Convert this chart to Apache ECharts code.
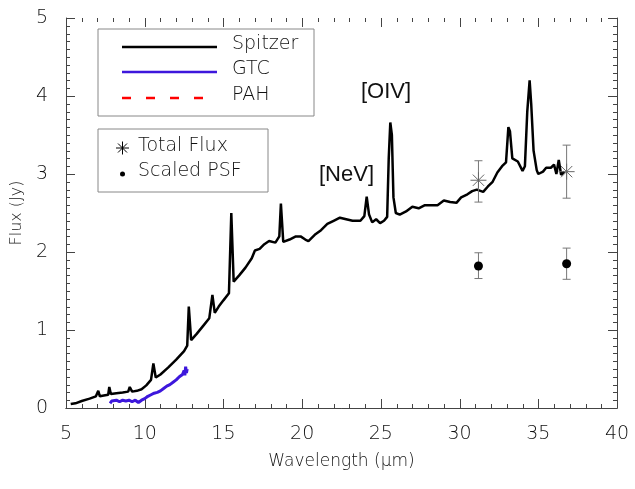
<!DOCTYPE html>
<html style="height: 100%">
<head>
<meta charset="utf-8">
<script src="https://cdn.jsdelivr.net/npm/echarts@6/dist/echarts.min.js"></script>
</head>
<body style="height: 100%; margin: 0; background: #fff">
<div id="container" style="width: 635px; height: 489px"></div>
<script type="text/javascript">

// Spitzer spectrum
var spitzerWave = [5.3, 5.6, 6.0, 6.5, 6.9, 7.05, 7.15, 7.4, 7.68, 7.75, 7.85, 8.2, 8.6, 8.95, 9.05, 9.2, 9.5, 9.8,
  10.1, 10.4, 10.55, 10.7, 11.0, 11.5, 12.0, 12.5, 12.7, 12.8, 12.95, 13.3, 13.7, 14.1, 14.3, 14.45, 14.7, 15.0,
  15.35, 15.5, 15.65, 16.0, 16.4, 16.8, 17.0, 17.3, 17.6, 17.9, 18.3, 18.55, 18.65, 18.8, 19.2, 19.6, 19.9, 20.2,
  20.4, 20.8, 21.2, 21.6, 22.0, 22.4, 22.8, 23.2, 23.7, 23.95, 24.1, 24.25, 24.45, 24.7, 24.95, 25.2, 25.4, 25.5,
  25.6, 25.7, 25.8, 25.95, 26.2, 26.6, 27.0, 27.4, 27.8, 28.2, 28.6, 29.0, 29.4, 29.8, 30.1, 30.5, 30.8, 31.1,
  31.5, 31.8, 32.1, 32.4, 32.7, 32.95, 33.1, 33.2, 33.35, 33.7, 34.0, 34.15, 34.3, 34.45, 34.55, 34.7, 34.9,
  35.0, 35.3, 35.5, 35.8, 36.0, 36.15, 36.3, 36.45, 36.65];
var spitzerFlux = [0.05, 0.06, 0.09, 0.12, 0.15, 0.22, 0.15, 0.16, 0.17, 0.27, 0.18, 0.19, 0.2, 0.21, 0.27, 0.21, 0.22, 0.24,
  0.29, 0.36, 0.57, 0.39, 0.43, 0.52, 0.62, 0.73, 0.8, 1.3, 0.87, 0.95, 1.05, 1.15, 1.45, 1.22, 1.3, 1.38,
  1.47, 2.5, 1.62, 1.7, 1.8, 1.92, 2.02, 2.04, 2.1, 2.14, 2.12, 2.2, 2.62, 2.13, 2.16, 2.2, 2.2, 2.16,
  2.14, 2.22, 2.28, 2.36, 2.4, 2.44, 2.42, 2.4, 2.4, 2.46, 2.71, 2.48, 2.38, 2.42, 2.37, 2.4, 2.45, 3.2,
  3.66, 3.5, 2.7, 2.5, 2.48, 2.52, 2.58, 2.56, 2.6, 2.6, 2.6, 2.66, 2.64, 2.63, 2.7, 2.74, 2.78, 2.8,
  2.77, 2.84, 2.9, 3.02, 3.1, 3.15, 3.6, 3.55, 3.2, 3.16, 3.04, 3.1, 3.8, 4.2, 3.9, 3.3, 3.05,
  3.0, 3.03, 3.08, 3.08, 3.12, 3.0, 3.18, 2.99, 3.03];

// GTC spectrum
var gtcWave = [7.8, 7.9, 8.0, 8.2, 8.4, 8.6, 8.8, 9.0, 9.2, 9.4, 9.6, 9.8, 10.0, 10.2, 10.4, 10.6, 10.8, 11.0,
  11.2, 11.4, 11.6, 11.8, 12.0, 12.2, 12.4, 12.5, 12.55, 12.6, 12.65, 12.7];
var gtcFlux = [0.06, 0.09, 0.07, 0.1, 0.08, 0.1, 0.09, 0.1, 0.08, 0.1, 0.07, 0.1, 0.12, 0.15, 0.17, 0.19, 0.2, 0.22,
  0.25, 0.28, 0.3, 0.33, 0.36, 0.4, 0.43, 0.48, 0.42, 0.53, 0.45, 0.5];

// photometry points with error bars
var photWave = [31.2, 36.8];
var totalFlux = [2.92, 3.03];
var totalLo = [2.64, 2.69];
var totalHi = [3.17, 3.37];
var psfFlux = [1.82, 1.85];
var psfLo = [1.66, 1.65];
var psfHi = [1.99, 2.05];

var xTicks = [5, 10, 15, 20, 25, 30, 35, 40];
var yTicks = [0, 1, 2, 3, 4, 5];

function pairs(a, b) {
  return a.map(function (v, i) { return [v, b[i]]; });
}
function errRows(f, lo, hi) {
  return photWave.map(function (w, i) { return [w, f[i], lo[i], hi[i]]; });
}

var xMin = xTicks[0], xMax = xTicks[xTicks.length - 1];
var yMin = yTicks[0], yMax = yTicks[yTicks.length - 1];

// box ticks (v6 here would not draw the axis ticks, so they go through a custom series)
var tickRows = [];
for (var i = 0; i <= (xMax - xMin); i++) {
  tickRows.push([xMin + i, yMin, 0, i % 5 === 0 ? 1 : 0]);
}
for (var j = 0; j <= (yMax - yMin) * 10; j++) {
  tickRows.push([xMin, yMin + j / 10, 1, j % 10 === 0 ? 1 : 0]);
}

var hershey = '"DejaVu Sans", sans-serif';
var axisCol = '#444';

function tickItem(params, api) {
  var kind = api.value(2), len = api.value(3) ? 9 : 4;
  var st = { stroke: axisCol, lineWidth: 1 };
  var a, b;
  if (kind === 0) {
    a = api.coord([api.value(0), yMin]);
    b = api.coord([api.value(0), yMax]);
    var x = Math.round(a[0]) + 0.5;
    return { type: 'group', children: [
      { type: 'line', shape: { x1: x, y1: a[1], x2: x, y2: a[1] - len }, style: st },
      { type: 'line', shape: { x1: x, y1: b[1], x2: x, y2: b[1] + len }, style: st }
    ] };
  }
  a = api.coord([xMin, api.value(1)]);
  b = api.coord([xMax, api.value(1)]);
  var y = Math.round(a[1]) + 0.5;
  return { type: 'group', children: [
    { type: 'line', shape: { x1: a[0], y1: y, x2: a[0] + len, y2: y }, style: st },
    { type: 'line', shape: { x1: b[0], y1: y, x2: b[0] - len, y2: y }, style: st }
  ] };
}

function errItem(kind) {
  return function (params, api) {
    var p = api.coord([api.value(0), api.value(1)]);
    var pl = api.coord([api.value(0), api.value(2)]);
    var ph = api.coord([api.value(0), api.value(3)]);
    var es = { stroke: '#777', lineWidth: 1 };
    var kids = [
      { type: 'line', shape: { x1: pl[0], y1: pl[1], x2: ph[0], y2: ph[1] }, style: es },
      { type: 'line', shape: { x1: pl[0] - 4, y1: pl[1], x2: pl[0] + 4, y2: pl[1] }, style: es },
      { type: 'line', shape: { x1: ph[0] - 4, y1: ph[1], x2: ph[0] + 4, y2: ph[1] }, style: es }
    ];
    if (kind === 'star') {
      var r = 8, d = r * 0.707;
      var ss = { stroke: '#666', lineWidth: 1 };
      kids.push({ type: 'line', shape: { x1: p[0] - r, y1: p[1], x2: p[0] + r, y2: p[1] }, style: ss });
      kids.push({ type: 'line', shape: { x1: p[0], y1: p[1] - r, x2: p[0], y2: p[1] + r }, style: ss });
      kids.push({ type: 'line', shape: { x1: p[0] - d, y1: p[1] - d, x2: p[0] + d, y2: p[1] + d }, style: ss });
      kids.push({ type: 'line', shape: { x1: p[0] - d, y1: p[1] + d, x2: p[0] + d, y2: p[1] - d }, style: ss });
    } else {
      kids.push({ type: 'circle', shape: { cx: p[0], cy: p[1], r: 4.5 }, style: { fill: '#000' } });
    }
    return { type: 'group', children: kids };
  };
}

var myChart = echarts.init(document.getElementById('container'));

function baseX(pos, labels) {
  return {
    type: 'value', position: pos, min: xMin, max: xMax, interval: 5,
    axisLine: { show: true, lineStyle: { color: axisCol } },
    axisTick: { show: false },
    splitLine: { show: false },
    axisLabel: { show: labels, margin: 17, fontSize: 19, color: '#111', fontFamily: hershey, fontWeight: 200 }
  };
}
function baseY(pos, labels) {
  return {
    type: 'value', position: pos, min: yMin, max: yMax, interval: 1,
    axisLine: { show: true, lineStyle: { color: axisCol } },
    axisTick: { show: false },
    splitLine: { show: false },
    axisLabel: { show: labels, margin: 18, fontSize: 19, color: '#111', fontFamily: hershey, fontWeight: 200 }
  };
}

var xb = baseX('bottom', true);
xb.name = 'Wavelength (\u03bcm)';
xb.nameLocation = 'middle';
xb.nameGap = 45;
xb.nameTextStyle = { fontSize: 17, color: '#111', fontFamily: hershey, fontWeight: 200 };
var yl = baseY('left', true);
yl.name = 'Flux (Jy)';
yl.nameLocation = 'middle';
yl.nameGap = 37;
yl.nameTextStyle = { fontSize: 16, color: '#111', fontFamily: hershey, fontWeight: 200 };

var option = {
  backgroundColor: '#fff',
  animation: false,
  grid: { left: 66, right: 18, top: 18, bottom: 81 },
  xAxis: [xb, baseX('top', false)],
  yAxis: [yl, baseY('right', false)],
  series: [
    {
      name: 'ticks', type: 'custom', renderItem: tickItem, data: tickRows, silent: true, z: 2
    },
    {
      name: 'Spitzer', type: 'line', data: pairs(spitzerWave, spitzerFlux), symbol: 'none',
      lineStyle: { color: '#000', width: 2.5 }, z: 3
    },
    {
      name: 'GTC', type: 'line', data: pairs(gtcWave, gtcFlux), symbol: 'none',
      lineStyle: { color: '#3d17dc', width: 3 }, z: 3
    },
    {
      name: 'PAH', type: 'line', data: [], symbol: 'none',
      lineStyle: { color: '#f00', width: 2, type: 'dashed' }
    },
    {
      name: 'Total Flux', type: 'custom', renderItem: errItem('star'),
      data: errRows(totalFlux, totalLo, totalHi), z: 4
    },
    {
      name: 'Scaled PSF', type: 'custom', renderItem: errItem('dot'),
      data: errRows(psfFlux, psfLo, psfHi), z: 4
    }
  ],
  graphic: [
    { type: 'rect', shape: { x: 98, y: 29, width: 216, height: 87 }, style: { fill: '#fff', stroke: '#888', lineWidth: 1 }, z: 10 },
    { type: 'line', shape: { x1: 122, y1: 47, x2: 217, y2: 47 }, style: { stroke: '#000', lineWidth: 2.5 }, z: 11 },
    { type: 'line', shape: { x1: 122, y1: 72, x2: 217, y2: 72 }, style: { stroke: '#3d17dc', lineWidth: 2.5 }, z: 11 },
    { type: 'line', shape: { x1: 122, y1: 98, x2: 206, y2: 98 }, style: { stroke: '#f00', lineWidth: 2.5, lineDash: [9, 15] }, z: 11 },
    { type: 'text', left: 232, top: 35, style: { text: 'Spitzer', fontSize: 19, fill: '#111', fontFamily: hershey, fontWeight: 200 }, z: 11 },
    { type: 'text', left: 232, top: 60, style: { text: 'GTC', fontSize: 19, fill: '#111', fontFamily: hershey, fontWeight: 200 }, z: 11 },
    { type: 'text', left: 232, top: 86, style: { text: 'PAH', fontSize: 19, fill: '#111', fontFamily: hershey, fontWeight: 200 }, z: 11 },

    { type: 'rect', shape: { x: 98, y: 129, width: 170, height: 63 }, style: { fill: '#fff', stroke: '#888', lineWidth: 1 }, z: 10 },
    { type: 'line', shape: { x1: 116, y1: 148, x2: 129, y2: 148 }, style: { stroke: '#000', lineWidth: 1 }, z: 11 },
    { type: 'line', shape: { x1: 122.5, y1: 141.5, x2: 122.5, y2: 154.5 }, style: { stroke: '#000', lineWidth: 1 }, z: 11 },
    { type: 'line', shape: { x1: 118, y1: 143.5, x2: 127, y2: 152.5 }, style: { stroke: '#000', lineWidth: 1 }, z: 11 },
    { type: 'line', shape: { x1: 118, y1: 152.5, x2: 127, y2: 143.5 }, style: { stroke: '#000', lineWidth: 1 }, z: 11 },
    { type: 'circle', shape: { cx: 122.5, cy: 174, r: 2.5 }, style: { fill: '#000' }, z: 11 },
    { type: 'text', left: 138, top: 137, style: { text: 'Total Flux', fontSize: 19, fill: '#111', fontFamily: hershey, fontWeight: 200 }, z: 11 },
    { type: 'text', left: 138, top: 162, style: { text: 'Scaled PSF', fontSize: 19, fill: '#111', fontFamily: hershey, fontWeight: 200 }, z: 11 },

    { type: 'text', left: 361, top: 81, style: { text: '[OIV]', fontSize: 22, fill: '#111', fontFamily: '"Liberation Sans", Arial, sans-serif' }, z: 11 },
    { type: 'text', left: 319, top: 164, style: { text: '[NeV]', fontSize: 22, fill: '#111', fontFamily: '"Liberation Sans", Arial, sans-serif' }, z: 11 }
  ]
};

if (option && typeof option === 'object') {
  myChart.setOption(option, true);
}
</script>
</body>
</html>
